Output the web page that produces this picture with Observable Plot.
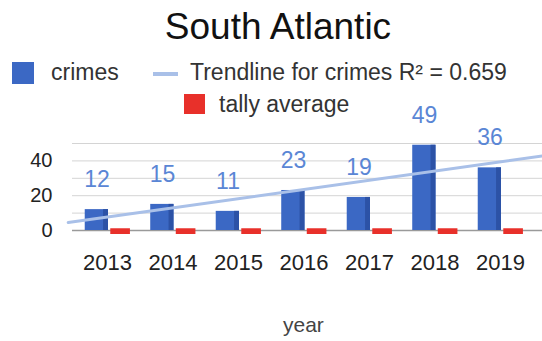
<!DOCTYPE html>
<html>
<head>
<meta charset="utf-8">
<script src="https://cdn.jsdelivr.net/npm/d3@7"></script>
<script src="https://cdn.jsdelivr.net/npm/@observablehq/plot@0.6"></script>
<style>
  html, body { margin: 0; padding: 0; background: #fff; }
  #wrap { position: relative; width: 542px; height: 341px; overflow: hidden; font-family: "Liberation Sans", Arial, sans-serif; }
  .abs { position: absolute; white-space: nowrap; line-height: 1; }
  #chart { position: absolute; left: 0; top: 120px; }
  #chart svg { overflow: visible; }
</style>
</head>
<body>
<div id="wrap">
  <div class="abs" id="title" style="left:0;width:556px;text-align:center;top:8px;font-size:37px;color:#111;">South Atlantic</div>
  <div class="abs" style="left:12px;top:62px;width:22px;height:22px;background:#3b68c4;"></div>
  <div class="abs" style="left:51px;top:61px;font-size:23px;color:#333;">crimes</div>
  <div class="abs" style="left:153px;top:72px;width:25px;height:4px;background:#a9c0e8;"></div>
  <div class="abs" style="left:190px;top:61px;font-size:23px;color:#333;">Trendline for crimes R² = 0.659</div>
  <div class="abs" style="left:184px;top:94px;width:21px;height:20px;background:#e8302a;"></div>
  <div class="abs" style="left:219px;top:93px;font-size:23px;color:#333;">tally average</div>
  <div id="chart"></div>
  <div class="abs" style="left:283px;top:314px;font-size:21px;color:#444;">year</div>
</div>
<script>
const years = [2013, 2014, 2015, 2016, 2017, 2018, 2019];
const crimes = [12, 15, 11, 23, 19, 49, 36];
const tally = [1, 1, 1, 1, 1, 1, 1];
const yTicks = [0, 20, 40];
const gridTicks = [0, 10, 20, 30, 40, 50];
const trendYears = [2012.4, 2019.65];

const data = years.map((y, i) => ({year: y, crimes: crimes[i], tally: tally[i]}));

// least-squares trendline for crimes
const mx = d3.mean(years), my = d3.mean(crimes);
const slope = d3.sum(years, (x, i) => (x - mx) * (crimes[i] - my)) / d3.sum(years, x => (x - mx) ** 2);
const intercept = my - slope * mx;
const trend = trendYears.map(x => ({year: x, value: intercept + slope * x}));

const chart = Plot.plot({
  width: 542,
  height: 221,
  marginLeft: 72,
  marginRight: 0,
  marginTop: 23,
  marginBottom: 111,
  style: {fontFamily: "Liberation Sans, Arial, sans-serif", background: "transparent", overflow: "visible"},
  x: {type: "linear", domain: [2013, 2019], range: [107, 500]},
  y: {domain: [0, 50]},
  marks: [
    Plot.gridY(gridTicks, {stroke: "#d4d4d4", strokeOpacity: 1}),
    Plot.ruleY([0], {stroke: "#9a9a9a", strokeWidth: 1.5}),
    Plot.rect(data, {x1: d => d.year - 0.34, x2: d => d.year + 0.015, y1: 0, y2: "crimes", fill: "#3b68c4"}),
    Plot.rect(data, {x1: d => d.year - 0.06, x2: d => d.year + 0.015, y1: 0, y2: "crimes", fill: "#2c52a6"}),
    Plot.rect(data, {x1: d => d.year + 0.05, x2: d => d.year + 0.35, y1: 0, y2: "tally", fill: "#e8302a", insetBottom: -4}),
    Plot.line(trend, {x: "year", y: "value", stroke: "#a9c0e8", strokeWidth: 3}),
    Plot.text(data, {x: d => d.year - 0.16, y: "crimes", text: d => String(d.crimes), dy: -30, fill: "#5a86d5", fontSize: 23}),
    Plot.axisY({ticks: yTicks, tickSize: 0, tickPadding: 20, fontSize: 20, fill: "#222", label: null}),
    Plot.axisX({ticks: years, tickFormat: d => String(d), tickSize: 0, tickPadding: 24, fontSize: 22, fill: "#222", label: null})
  ]
});
document.getElementById("chart").appendChild(chart);
</script>
</body>
</html>
